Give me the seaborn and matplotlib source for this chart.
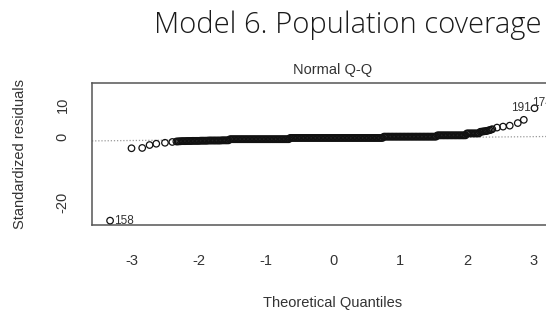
import matplotlib
matplotlib.use("Agg")
import matplotlib.pyplot as plt
import seaborn as sns
import pandas as pd

# ---- data ----
theoretical_quantiles = [
    # left tail
    -3.33, -3.01, -2.85, -2.74, -2.64, -2.51, -2.40,
    # band
    -2.34, -2.32, -2.30, -2.28, -2.26, -2.24, -2.22, -2.20, -2.18, -2.16,
    -2.14, -2.12, -2.10, -2.08, -2.06, -2.04, -2.02, -2.00, -1.98, -1.96,
    -1.94, -1.92, -1.90, -1.88, -1.86, -1.84, -1.82, -1.80, -1.78, -1.76,
    -1.74, -1.72, -1.70, -1.68, -1.66, -1.64, -1.62, -1.60, -1.58, -1.56,
    -1.54, -1.52, -1.50, -1.48, -1.46, -1.44, -1.42, -1.40, -1.38, -1.36,
    -1.34, -1.32, -1.30, -1.28, -1.26, -1.24, -1.22, -1.20, -1.18, -1.16,
    -1.14, -1.12, -1.10, -1.08, -1.06, -1.04, -1.02, -1.00, -0.98, -0.96,
    -0.94, -0.92, -0.90, -0.88, -0.86, -0.84, -0.82, -0.80, -0.78, -0.76,
    -0.74, -0.72, -0.70, -0.68, -0.66,
    -0.64, -0.62, -0.60, -0.58, -0.56, -0.54, -0.52, -0.50, -0.48, -0.46,
    -0.44, -0.42, -0.40, -0.38, -0.36, -0.34, -0.32, -0.30, -0.28, -0.26,
    -0.24, -0.22, -0.20, -0.18, -0.16, -0.14, -0.12, -0.10, -0.08, -0.06,
    -0.04, -0.02, 0.00, 0.02, 0.04, 0.06, 0.08, 0.10, 0.12, 0.14,
    0.16, 0.18, 0.20, 0.22, 0.24, 0.26, 0.28, 0.30, 0.32, 0.34,
    0.36, 0.38, 0.40, 0.42, 0.44, 0.46, 0.48, 0.50, 0.52, 0.54,
    0.56, 0.58, 0.60, 0.62, 0.64, 0.66, 0.68, 0.70, 0.72, 0.74,
    0.76, 0.78, 0.80, 0.82, 0.84, 0.86, 0.88, 0.90, 0.92, 0.94,
    0.96, 0.98, 1.00, 1.02, 1.04, 1.06, 1.08, 1.10, 1.12, 1.14,
    1.16, 1.18, 1.20, 1.22, 1.24, 1.26, 1.28, 1.30, 1.32, 1.34,
    1.36, 1.38, 1.40, 1.42, 1.44, 1.46, 1.48, 1.50, 1.52, 1.54,
    1.56, 1.58, 1.60, 1.62, 1.64, 1.66, 1.68, 1.70, 1.72, 1.74,
    1.76, 1.78, 1.80, 1.82, 1.84, 1.86, 1.88, 1.90, 1.92, 1.94,
    1.96, 1.98,
    2.00, 2.02, 2.04, 2.06, 2.08, 2.10, 2.12, 2.14, 2.16, 2.18,
    2.20, 2.22, 2.24, 2.26, 2.28, 2.30, 2.32, 2.34, 2.36, 2.38,
    # right tail
    2.45, 2.54, 2.64, 2.76, 2.85, 3.01, 3.33,
]
standardized_residuals = [
    # left tail
    -25.8, -3.4, -3.3, -2.4, -2.0, -1.7, -1.45,
    # band
    -1.30, -1.30, -1.25, -1.25, -1.20, -1.20, -1.20, -1.20, -1.15, -1.15,
    -1.15, -1.15, -1.10, -1.10, -1.10, -1.10, -1.10, -1.10, -1.05, -1.05,
    -1.05, -1.05, -1.05, -1.05, -1.00, -1.00, -1.00, -1.00, -1.00, -1.00,
    -1.00, -1.00, -1.00, -1.00, -0.95, -0.95, -0.95, -0.95, -0.95, -0.95,
    -0.60, -0.60, -0.60, -0.60, -0.60, -0.60, -0.60, -0.60, -0.60, -0.60,
    -0.60, -0.60, -0.60, -0.60, -0.60, -0.60, -0.60, -0.60, -0.60, -0.60,
    -0.60, -0.60, -0.60, -0.60, -0.60, -0.60, -0.60, -0.60, -0.60, -0.60,
    -0.60, -0.60, -0.60, -0.60, -0.60, -0.60, -0.60, -0.60, -0.60, -0.60,
    -0.60, -0.60, -0.60, -0.60, -0.60,
    -0.20, -0.20, -0.20, -0.20, -0.20, -0.20, -0.20, -0.20, -0.20, -0.20,
    -0.20, -0.20, -0.20, -0.20, -0.20, -0.20, -0.20, -0.20, -0.20, -0.20,
    -0.20, -0.20, -0.20, -0.20, -0.20, -0.20, -0.20, -0.20, -0.20, -0.20,
    -0.20, -0.20, -0.20, -0.20, -0.20, -0.20, -0.20, -0.20, -0.20, -0.20,
    -0.20, -0.20, -0.20, -0.20, -0.20, -0.20, -0.20, -0.20, -0.20, -0.20,
    -0.20, -0.20, -0.20, -0.20, -0.20, -0.20, -0.20, -0.20, -0.20, -0.20,
    -0.20, -0.20, -0.20, -0.20, -0.20, -0.20, -0.20, -0.20, -0.20, -0.20,
    0.20, 0.20, 0.20, 0.20, 0.20, 0.20, 0.20, 0.20, 0.20, 0.20,
    0.20, 0.20, 0.20, 0.20, 0.20, 0.20, 0.20, 0.20, 0.20, 0.20,
    0.20, 0.20, 0.20, 0.20, 0.20, 0.20, 0.20, 0.20, 0.20, 0.20,
    0.20, 0.20, 0.20, 0.20, 0.20, 0.20, 0.20, 0.20, 0.20, 0.20,
    0.60, 0.60, 0.60, 0.60, 0.60, 0.60, 0.60, 0.60, 0.60, 0.60,
    0.60, 0.60, 0.60, 0.60, 0.60, 0.60, 0.60, 0.60, 0.60, 0.60,
    0.60, 0.60,
    1.20, 1.20, 1.20, 1.20, 1.20, 1.20, 1.20, 1.20, 1.20, 1.20,
    1.70, 1.75, 1.80, 1.85, 1.90, 2.00, 2.10, 2.20, 2.35, 2.50,
    # right tail
    3.0, 3.3, 3.6, 4.4, 5.4, 9.0, 10.6,
]
labeled_points = ["158", "191", "174"]
labeled_x = [-3.33, 3.01, 3.33]
labeled_y = [-25.8, 9.0, 10.6]
qqline_intercept = -0.4
qqline_slope = 0.2
x_ticks = [-3, -2, -1, 0, 1, 2, 3]
y_ticks = [-20, -10, 0, 10]
y_tick_labels = ["-20", "", "0", "10"]

df = pd.DataFrame({"q": theoretical_quantiles, "r": standardized_residuals})

sns.set_style("white")
plt.rcParams["font.family"] = ["Liberation Sans", "DejaVu Sans"]

fig = plt.figure(figsize=(5.46, 3.16), dpi=100)
W, H = 546, 316
ax = fig.add_axes([92 / W, (H - 225) / H, 482 / W, 142 / H])

ax.axline((0, qqline_intercept), slope=qqline_slope, color="#9a9a9a",
          linestyle=(0, (1, 1.5)), linewidth=0.9, zorder=1)

sns.scatterplot(data=df, x="q", y="r", ax=ax, marker="o", s=22,
                facecolor="none", edgecolor="#111111", linewidth=0.9,
                zorder=3, legend=False)

ax.set_xlim(-3.6, 3.6)
ax.set_ylim(-27.15, 16.8)
ax.set_xticks(x_ticks)
ax.set_xticklabels([str(t) for t in x_ticks])
ax.set_yticks(y_ticks)
ax.set_yticklabels(y_tick_labels, rotation=90, va="center")

for sp in ax.spines.values():
    sp.set_visible(True)
    sp.set_color("#555555")
    sp.set_linewidth(1.1)

ax.tick_params(axis="both", direction="out", length=7, width=0.9,
               color="#555555", labelcolor="#333333", labelsize=10.5)
ax.tick_params(axis="x", pad=14)
ax.tick_params(axis="y", pad=9)

ax.set_xlabel("Theoretical Quantiles", fontsize=10.5, color="#333333")
ax.xaxis.set_label_coords(0.5, (225 - 303) / 142)
ax.xaxis.label.set_va("center")
ax.set_ylabel("Standardized residuals", fontsize=10.5, color="#333333")
ax.yaxis.set_label_coords((20 - 92) / 482, 0.5)
ax.yaxis.label.set_va("center")

ax.text(0.5, (225 - 70) / 142, "Normal Q-Q", transform=ax.transAxes,
        ha="center", va="center", fontsize=10.5, color="#333333")

for lab, lx, ly in zip(labeled_points, labeled_x, labeled_y):
    if lx < 0:
        ax.annotate(lab, (lx, ly), xytext=(3, 0), textcoords="offset points",
                    ha="left", va="center", fontsize=8.5, color="#333333")
    else:
        ax.annotate(lab, (lx, ly), xytext=(-3, 0), textcoords="offset points",
                    ha="right", va="center", fontsize=8.5, color="#333333")

fig.text(542 / W, (H - 33) / H, "Model 6. Population coverage",
         ha="right", va="baseline", fontsize=21, color="#1a1a1a",
         family=["Open Sans", "DejaVu Sans"], fontweight=300)

fig.savefig("out.png", dpi=100, facecolor="white")
